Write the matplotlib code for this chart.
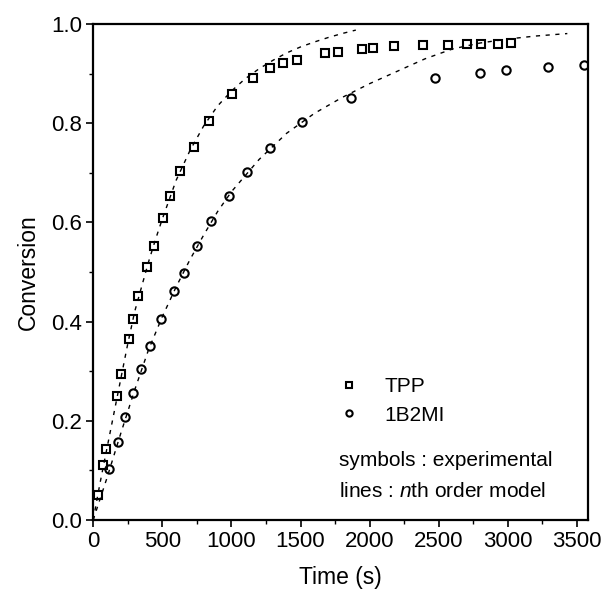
import numpy as np
import matplotlib
matplotlib.use('Agg')
import matplotlib.pyplot as plt
from matplotlib.ticker import MultipleLocator, FormatStrFormatter

plt.rcParams['font.family'] = ['Liberation Sans', 'DejaVu Sans']
plt.rcParams['mathtext.fontset'] = 'custom'
plt.rcParams['mathtext.it'] = 'Liberation Sans:italic'
plt.rcParams['mathtext.rm'] = 'Liberation Sans'

tpp_t = [36, 70, 95, 173, 201, 257, 285, 327, 388, 438, 505, 558, 628, 726, 837,
         1002, 1155, 1281, 1370, 1476, 1680, 1772, 1943, 2023, 2174, 2389,
         2568, 2705, 2806, 2929, 3023]
tpp_x = [0.051, 0.110, 0.144, 0.250, 0.295, 0.366, 0.405, 0.451, 0.511, 0.553,
         0.610, 0.654, 0.703, 0.753, 0.805, 0.859, 0.892, 0.911, 0.921, 0.928,
         0.942, 0.944, 0.950, 0.952, 0.955, 0.958, 0.958, 0.959, 0.959, 0.960, 0.961]

bmi_t = [117, 182, 229, 290, 349, 411, 489, 584, 654, 751, 854, 979, 1113, 1280,
         1511, 1864, 2470, 2796, 2988, 3291, 3553]
bmi_x = [0.102, 0.157, 0.208, 0.256, 0.304, 0.351, 0.405, 0.461, 0.499, 0.553,
         0.602, 0.654, 0.701, 0.751, 0.802, 0.852, 0.892, 0.902, 0.907, 0.914, 0.917]

# Curvas del modelo de orden n
tpp_mod_t = [0, 50, 100, 150, 200, 250, 300, 350, 400, 450, 500, 600, 700, 800,
             900, 1000, 1100, 1200, 1300, 1400, 1500, 1600, 1700, 1800, 1900]
tpp_mod_x = [0, 0.075, 0.145, 0.215, 0.285, 0.355, 0.42, 0.47, 0.52, 0.565, 0.607,
             0.685, 0.745, 0.795, 0.835, 0.865, 0.89, 0.91, 0.927, 0.942, 0.954,
             0.964, 0.973, 0.981, 0.988]

bmi_mod_t = [0, 100, 200, 300, 400, 500, 600, 700, 800, 900, 1000, 1200, 1400,
             1600, 1800, 2000, 2200, 2400, 2600, 2800, 3000, 3200, 3430]
bmi_mod_x = [0, 0.085, 0.175, 0.262, 0.343, 0.41, 0.47, 0.525, 0.575, 0.622, 0.662,
             0.727, 0.78, 0.82, 0.852, 0.88, 0.905, 0.93, 0.95, 0.962, 0.97, 0.976, 0.981]

fig = plt.figure(figsize=(6.05, 5.96), dpi=100)
ax = fig.add_axes([0.154, 0.1275, 0.818, 0.832])

ax.plot(tpp_mod_t, tpp_mod_x, color='black', lw=1.0, ls=(0, (3, 4)))
ax.plot(bmi_mod_t, bmi_mod_x, color='black', lw=1.0, ls=(0, (3, 4)))
ax.plot(tpp_t, tpp_x, ls='none', marker='s', ms=6, mfc='none', mec='black',
        mew=1.5, label='TPP')
ax.plot(bmi_t, bmi_x, ls='none', marker='o', ms=6, mfc='none', mec='black',
        mew=1.5, label='1B2MI')

ax.set_xlim(0, 3580)
ax.set_ylim(0, 1.0)
ax.xaxis.set_major_locator(MultipleLocator(500))
ax.xaxis.set_minor_locator(MultipleLocator(250))
ax.yaxis.set_major_locator(MultipleLocator(0.2))
ax.yaxis.set_minor_locator(MultipleLocator(0.1))
ax.yaxis.set_major_formatter(FormatStrFormatter('%.1f'))
ax.tick_params(which='major', direction='out', length=5, width=1.2, labelsize=16, pad=3)
ax.tick_params(which='minor', direction='out', length=3, width=1.0)
for s in ax.spines.values():
    s.set_linewidth(1.6)

ax.set_xlabel('Time (s)', fontsize=16.5, labelpad=10)
ax.set_ylabel('Conversion', fontsize=16.5, labelpad=8)

leg = ax.legend(loc='center left', bbox_to_anchor=(0.475, 0.24), frameon=False,
                fontsize=15, handlelength=1.0, handletextpad=1.2, labelspacing=0.45,
                markerscale=0.75, borderpad=0)
ax.text(0.497, 0.12, 'symbols : experimental', transform=ax.transAxes,
        fontsize=15, va='center', ha='left')
ax.text(0.497, 0.058, 'lines : $n$th order model', transform=ax.transAxes,
        fontsize=15, va='center', ha='left')

fig.savefig('out.png', dpi=100)
